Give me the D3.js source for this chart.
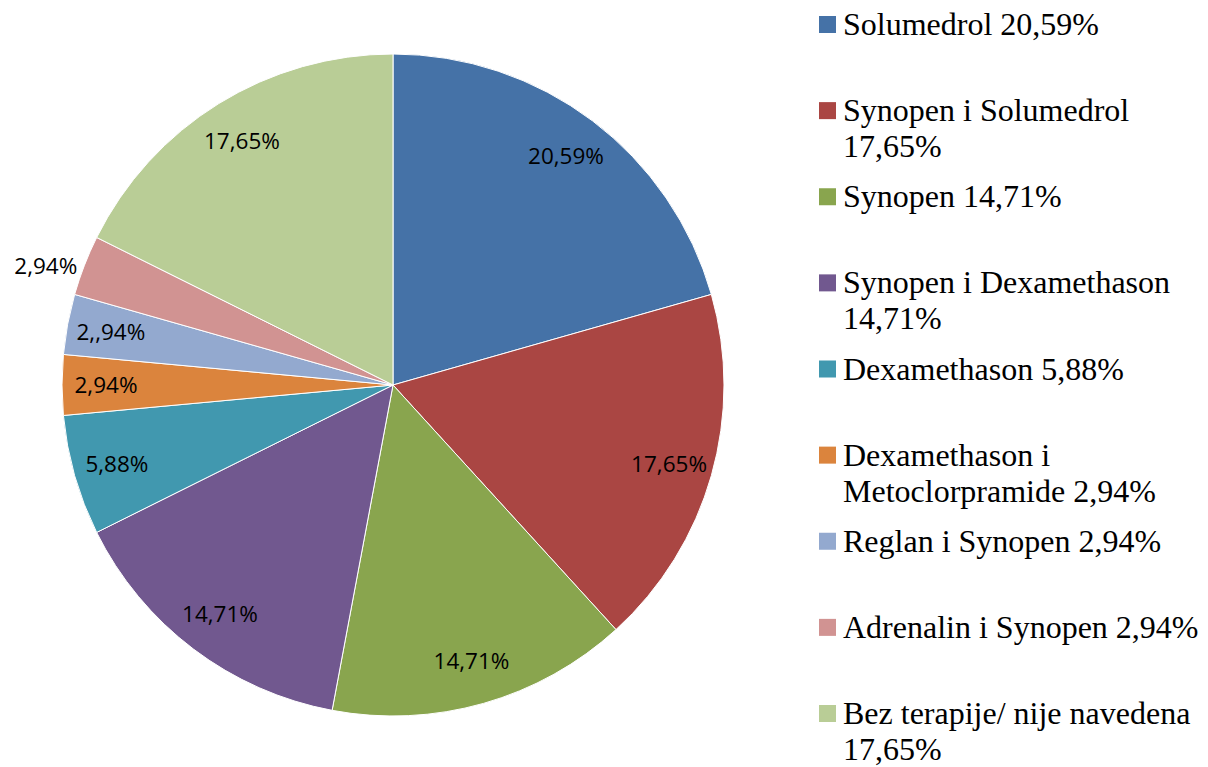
<!DOCTYPE html>
<html>
<head>
<meta charset="utf-8">
<script src="https://cdn.jsdelivr.net/npm/d3@7"></script>
<style>
html,body{margin:0;padding:0;background:#fff;}
svg{display:block;}
</style>
</head>
<body>
<svg id="chart" width="1208" height="767"></svg>
<script>
const categories = ["Solumedrol 20,59%", "Synopen i Solumedrol\n17,65%", "Synopen 14,71%", "Synopen i Dexamethason\n14,71%", "Dexamethason 5,88%", "Dexamethason i\nMetoclorpramide 2,94%", "Reglan i Synopen 2,94%", "Adrenalin i Synopen 2,94%", "Bez terapije/ nije navedena\n17,65%"];
const values = [20.59, 17.65, 14.71, 14.71, 5.88, 2.94, 2.94, 2.94, 17.65];
const sliceLabels = ["20,59%", "17,65%", "14,71%", "14,71%", "5,88%", "2,94%", "2,,94%", "2,94%", "17,65%"];
const colors = ["#4572A7", "#AA4643", "#89A54E", "#71588F", "#4198AF", "#DB843D", "#93A9CF", "#D19392", "#B9CD96"];

const svg = d3.select("#chart");
const cx = 393, cy = 385, R = 331;

const pie = d3.pie().sort(null).value(d => d)(values);
const arc = d3.arc().innerRadius(0).outerRadius(R);
const g = svg.append("g").attr("transform", `translate(${cx},${cy})`);

g.selectAll("path").data(pie).join("path")
  .attr("d", arc)
  .attr("fill", (d, i) => colors[i])
  .attr("stroke", "#fff")
  .attr("stroke-width", 1);

const outside = 7;
g.selectAll("text").data(pie).join("text")
  .attr("transform", (d, i) => {
    const a = (d.startAngle + d.endAngle) / 2;
    if (i === outside) {
      return `translate(${R * Math.sin(a) - 7},${-R * Math.cos(a)})`;
    }
    const r = 287;
    return `translate(${r * Math.sin(a)},${-r * Math.cos(a)})`;
  })
  .attr("text-anchor", (d, i) => i === outside ? "end" : "middle")
  .attr("dy", "0.36em")
  .attr("font-family", "'Open Sans', sans-serif")
  .attr("font-size", 22.5)
  .attr("fill", "#000")
  .text((d, i) => sliceLabels[i]);

// legend
const legendY = d3.scaleLinear().domain([0, categories.length - 1]).range([35, 724]);
const lg = svg.append("g");
categories.forEach((c, i) => {
  const y = legendY(i);
  lg.append("rect").attr("x", 819).attr("y", y - 19).attr("width", 17).attr("height", 17).attr("fill", colors[i]);
  const t = lg.append("text").attr("x", 843).attr("y", y)
    .attr("font-family", "'Liberation Serif', 'Times New Roman', serif")
    .attr("font-size", 32).attr("fill", "#000");
  c.split("\n").forEach((line, k) => {
    t.append("tspan").attr("x", 843).attr("y", y + k * 36).text(line);
  });
});
</script>
</body>
</html>
